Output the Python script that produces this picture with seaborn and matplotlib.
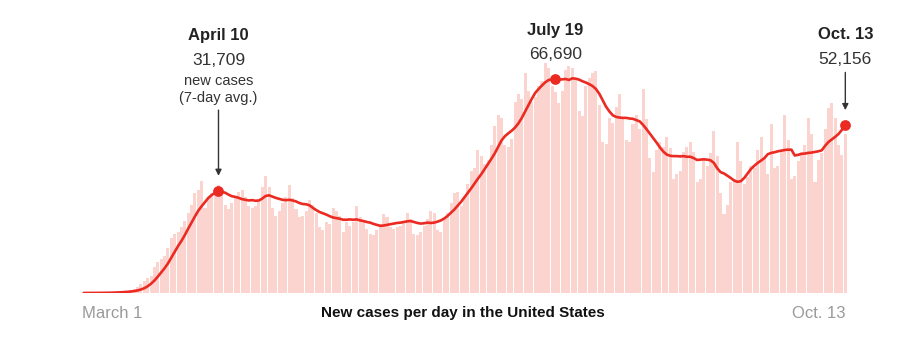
import matplotlib
matplotlib.use("Agg")
import matplotlib.pyplot as plt
import seaborn as sns
import pandas as pd
import numpy as np

# ---------------- data (thousands of cases), day 0 = March 1 ----------------
start_label = "March 1"
end_label = "Oct. 13"

daily_cases_k = [
    # Mar 1 - Mar 7
    0.01, 0.02, 0.02, 0.03, 0.06, 0.06, 0.10,
    0.12, 0.18, 0.29, 0.40, 0.50, 0.70, 0.75,
    0.95, 1.3, 1.8, 2.9, 3.6, 4.6, 5.2,
    8.0, 9.5, 10.5, 11.5, 14.0, 17.0, 18.5,
    19.0, 20.5, 22.5, 25.0, 27.5, 31.0, 32.0,
    35.0, 26.5, 30.0, 31.0, 32.5, 33.5, 31.0,
    27.5, 26.0, 28.0, 29.5, 31.5, 32.0, 30.0,
    27.0, 26.5, 27.0, 28.5, 33.0, 36.5, 33.0,
    26.5, 24.0, 25.5, 28.0, 30.0, 33.5, 29.5,
    26.0, 23.5, 24.0, 25.5, 29.0, 27.5, 25.0,
    20.5, 19.5, 22.0, 21.5, 26.5, 25.5, 24.0,
    19.0, 22.0, 21.0, 22.0, 27.0, 23.5, 22.0,
    20.0, 18.5, 18.0, 19.5, 21.5, 24.5, 23.5,
    20.5, 20.0, 20.5, 21.0, 22.0, 25.0, 23.0,
    18.5, 18.0, 19.0, 21.0, 23.0, 25.5, 25.0,
    19.5, 19.0, 23.0, 25.0, 28.0, 31.0, 31.5,
    27.0, 30.0, 34.0, 38.0, 39.0, 44.5, 42.5,
    40.0, 41.5, 46.0, 52.0, 55.5, 54.5, 46.0,
    45.5, 48.0, 59.5, 62.0, 60.5, 68.5, 63.0,
    59.5, 61.0, 64.5, 66.0, 71.5, 70.0, 64.5,
    62.5, 59.0, 63.0, 69.5, 70.5, 70.0, 66.5,
    56.5, 55.0, 64.5, 67.0, 68.5, 69.0, 58.5,
    47.0, 46.5, 54.5, 53.0, 58.0, 62.0, 54.5,
    47.5, 47.0, 52.5, 55.5, 51.0, 63.5, 54.0,
    42.0, 37.5, 44.5, 47.0, 45.5, 48.5, 45.0,
    35.5, 37.0, 38.0, 44.0, 45.5, 47.0, 44.0,
    34.5, 35.5, 42.0, 39.5, 43.5, 50.5, 42.5,
    31.0, 24.5, 27.5, 34.5, 35.5, 47.0, 41.0,
    34.0, 36.0, 39.5, 39.0, 44.5, 48.5, 42.0,
    37.0, 52.5, 39.0, 39.5, 44.5, 55.5, 47.5,
    35.5, 36.5, 41.0, 44.0, 46.0, 54.5, 49.5,
    34.5, 41.5, 43.5, 51.0, 57.5, 59.0, 54.5,
    46.0, 43.0, 49.5,
]

avg_7day_k = [
    # March
    0.01, 0.01, 0.02, 0.02, 0.03, 0.04, 0.05, 0.07, 0.09, 0.12,
    0.16, 0.21, 0.28, 0.36, 0.46, 0.6, 0.8, 1.1, 1.5, 2.1,
    2.9, 3.9, 5.1, 6.4, 7.7, 9.2, 11.0, 12.8, 14.6, 16.2, 18.0,
    # April
    20.0, 21.9, 23.8, 25.6, 27.0, 28.3, 29.6, 30.5, 31.2, 31.709,
    31.5, 31.2, 30.6, 30.1, 29.9, 29.6, 29.2, 29.0, 28.8, 28.9,
    28.7, 28.8, 29.4, 30.2, 30.4, 30.0, 29.6, 29.3, 29.0, 28.9,
    # May
    29.0, 28.8, 28.5, 28.0, 27.7, 27.6, 27.3, 26.5, 25.8, 25.2,
    24.8, 24.4, 23.9, 23.5, 23.3, 23.1, 22.8, 22.8, 22.9, 22.8,
    22.9, 22.6, 22.4, 22.1, 21.9, 21.5, 21.2, 20.9, 21.0, 21.2, 21.4,
    # June
    21.6, 21.8, 21.9, 22.1, 22.3, 22.4, 22.1, 21.8, 21.6, 21.7,
    21.9, 21.8, 21.9, 22.2, 22.6, 23.2, 24.0, 25.0, 26.0, 27.2,
    28.4, 29.8, 31.2, 32.6, 34.1, 35.6, 37.0, 38.6, 40.2, 41.8,
    # July
    43.5, 45.5, 47.5, 48.8, 49.7, 50.5, 51.5, 52.8, 54.5, 56.5,
    58.5, 60.5, 62.3, 63.5, 64.6, 65.6, 66.3, 66.5, 66.69, 66.4,
    66.5, 66.6, 66.3, 66.8, 66.7, 66.4, 65.9, 65.5, 65.0, 64.4, 63.5,
    # August
    62.0, 60.0, 58.0, 56.5, 55.3, 54.8, 54.6, 54.5, 54.5, 54.3,
    54.2, 53.8, 53.4, 52.3, 51.0, 49.6, 48.2, 46.8, 45.3, 44.0,
    43.1, 42.7, 42.6, 42.6, 42.5, 42.6, 42.4, 42.4, 42.0, 41.4, 41.5,
    # September
    41.6, 41.5, 41.3, 40.5, 38.8, 37.6, 37.2, 36.5, 35.8, 35.0,
    34.6, 34.8, 35.8, 37.2, 38.6, 39.6, 40.5, 41.2, 42.0, 43.2,
    43.6, 43.8, 44.1, 44.3, 44.5, 44.6, 44.6, 42.8, 43.0, 43.3,
    # October 1-13
    43.4, 43.6, 43.7, 43.9, 44.1, 44.4, 45.8, 47.0, 47.8, 48.6,
    49.5, 50.8, 52.156,
]

highlight_days = [40, 140, 226]
highlight_dates = ["April 10", "July 19", "Oct. 13"]
highlight_values = ["31,709", "66,690", "52,156"]
title = "New cases per day in the United States"

# ---------------- frames ----------------
days = list(range(len(daily_cases_k)))
df = pd.DataFrame({"day": days,
                   "cases": [v * 1000 for v in daily_cases_k],
                   "avg": [v * 1000 for v in avg_7day_k]})
hl = df[df["day"].isin(highlight_days)]

# ---------------- style ----------------
sns.set_theme(style="white")
plt.rcParams["font.family"] = ["Liberation Sans", "DejaVu Sans"]

W, H = 904, 340
fig = plt.figure(figsize=(W / 100, H / 100), dpi=100)
base_px = 293
top_px = 52
ax = fig.add_axes([82 / W, (H - base_px) / H, 765 / W, (base_px - top_px) / H])

BAR = "#fcd4cf"
RED = "#eb2a22"

sns.barplot(data=df, x="day", y="cases", native_scale=True, color=BAR,
            saturation=1, width=0.9, errorbar=None, linewidth=0, ax=ax)
sns.lineplot(data=df, x="day", y="avg", color=RED, linewidth=1.9, ax=ax,
             zorder=3)
sns.scatterplot(data=hl, x="day", y="avg", color=RED, s=60, linewidth=0,
                zorder=4, ax=ax, clip_on=False)

ax.set_xlim(-0.5, len(days) - 0.5)
ax.set_ylim(0, 75000)
ax.set_axis_off()

DARK = "#222222"
NUM = "#333333"

def label(day, val, dy_px, text, **kw):
    ax.annotate(text, xy=(day, val), xycoords="data",
                xytext=(0, dy_px), textcoords="offset pixels",
                ha="center", va="center", annotation_clip=False, **kw)

# April 10
d, v = highlight_days[0], avg_7day_k[highlight_days[0]] * 1000
label(d, v, 156, highlight_dates[0], fontsize=12, fontweight="bold", color=DARK)
label(d, v, 131, highlight_values[0], fontsize=12.5, color=NUM)
label(d, v, 110, "new cases", fontsize=10.5, color=NUM)
label(d, v, 93, "(7-day avg.)", fontsize=10.5, color=NUM)
ax.annotate("", xy=(d, v), xycoords="data", xytext=(0, 81),
            textcoords="offset pixels",
            arrowprops=dict(arrowstyle="-|>", color="#333333", lw=1.0,
                            mutation_scale=9, shrinkA=0, shrinkB=11),
            annotation_clip=False)

# July 19
d, v = highlight_days[1], avg_7day_k[highlight_days[1]] * 1000
label(d, v, 48, highlight_dates[1], fontsize=12, fontweight="bold", color=DARK)
label(d, v, 24, highlight_values[1], fontsize=12.5, color=NUM)

# Oct 13
d, v = highlight_days[2], avg_7day_k[highlight_days[2]] * 1000
label(d, v, 91, highlight_dates[2], fontsize=12, fontweight="bold", color=DARK)
label(d, v, 66, highlight_values[2], fontsize=12.5, color=NUM)
ax.annotate("", xy=(d, v), xycoords="data", xytext=(0, 53),
            textcoords="offset pixels",
            arrowprops=dict(arrowstyle="-|>", color="#333333", lw=1.0,
                            mutation_scale=9, shrinkA=0, shrinkB=11),
            annotation_clip=False)

# bottom labels
ty = 1 - 313 / H
fig.text(82 / W, ty, start_label, ha="left", va="center", fontsize=12, color="#9a9a9a")
fig.text(846 / W, ty, end_label, ha="right", va="center", fontsize=12, color="#9a9a9a")
fig.text(463 / W, ty, title, ha="center", va="center", fontsize=11,
         fontweight="bold", color="#111111")

fig.savefig("out.png", dpi=100, facecolor="white")
